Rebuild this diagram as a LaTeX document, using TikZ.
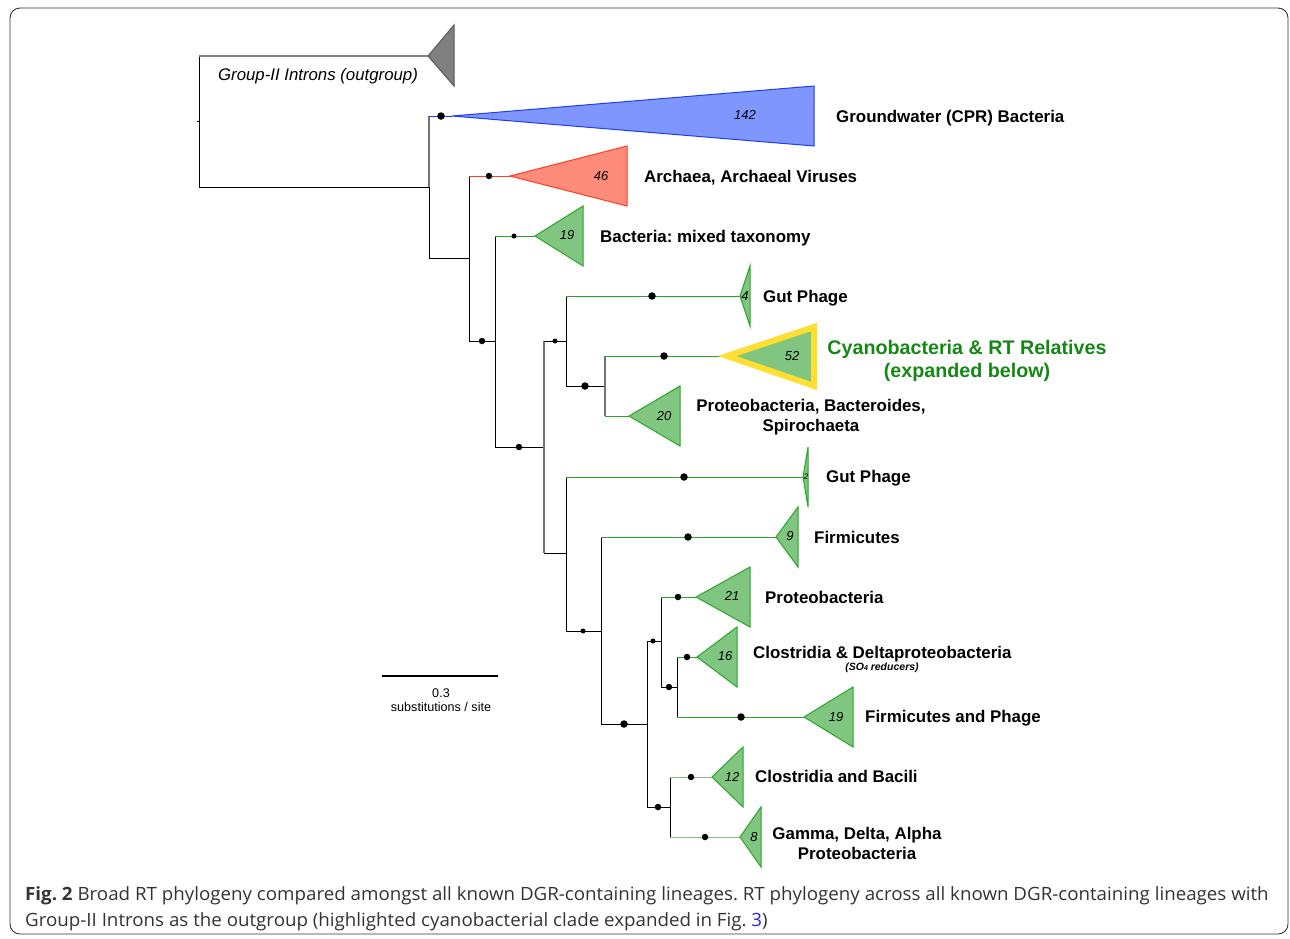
\documentclass[tikz,border=0pt]{standalone}
\usepackage{fontspec}
\setmainfont{Liberation Sans}
\newfontfamily\capfont{Open Sans}
\usetikzlibrary{calc}
\frenchspacing
\definecolor{gfill}{RGB}{128,198,128}
\definecolor{gline}{RGB}{40,165,40}
\definecolor{bfill}{RGB}{128,150,255}
\definecolor{bline}{RGB}{30,60,255}
\definecolor{rfill}{RGB}{255,140,122}
\definecolor{rline}{RGB}{255,60,30}
\definecolor{ylw}{RGB}{255,224,50}
\definecolor{cyantxt}{RGB}{20,135,20}
\definecolor{capgray}{RGB}{51,51,51}
\definecolor{figblue}{RGB}{40,40,220}
\begin{document}
\begin{tikzpicture}[x=1pt,y=-1pt,
  branch/.style={line width=0.9pt, black},
  greybranch/.style={line width=1.2pt, black!55},
  leafg/.style={line width=0.9pt, gline},
  dotL/.style={circle, fill=black, inner sep=0pt, minimum size=7.5pt},
  dotM/.style={circle, fill=black, inner sep=0pt, minimum size=6.5pt},
  dotS/.style={circle, fill=black, inner sep=0pt, minimum size=5pt},
  lab/.style={font=\bfseries\fontsize{16.9}{20}\selectfont, anchor=base west, inner sep=0pt},
  clab/.style={font=\bfseries\fontsize{16.9}{20}\selectfont, align=center, inner sep=0pt},
  num/.style={font=\itshape\fontsize{13}{15}\selectfont, inner sep=0pt},
  tri/.style={line width=1pt, line join=miter},
  captxt/.style={font=\capfont\fontsize{18.3}{20}\selectfont, text=capgray, anchor=base west, inner sep=0pt}
]
\useasboundingbox (0,0) rectangle (1290,938);
% frame
\draw[line width=0.9pt, black!80, rounded corners=10pt] (10,8) -- (1288,8) -- (1288,934) -- (10,934) -- cycle;

% ---- clade apex coordinates
\coordinate (og) at (428,56);
\coordinate (cpr) at (452,116);
\coordinate (arc) at (510,176);
\coordinate (mix) at (535,236);
\coordinate (gp1) at (740,296);
\coordinate (cya) at (727,356);
\coordinate (pbs) at (629,416);
\coordinate (gp2) at (803,477);
\coordinate (fir) at (776,537);
\coordinate (pro) at (696,597);
\coordinate (cld) at (697,657);
\coordinate (fph) at (804,717);
\coordinate (cba) at (712,777);
\coordinate (gda) at (740,837);

% ---- internal nodes
\coordinate (n0) at (199,121);
\coordinate (n1) at (429,187);
\coordinate (n2) at (469,258);
\coordinate (n3) at (495,341);
\coordinate (n4) at (544,447);
\coordinate (n5) at (566,341);
\coordinate (n6) at (605,386);
\coordinate (n8) at (566,553);
\coordinate (n9) at (601,631);
\coordinate (n10) at (647,724);
\coordinate (n11) at (661,641);
\coordinate (n12) at (677,687);
\coordinate (n13) at (670,807);

% ---- edges
\draw[branch] (n0) -- ++(-2,0);
\draw[branch] (n0) |- (n1);
\draw[branch] (n0) -- (n0 |- og);
\draw[line width=1.2pt, black!50] (n0 |- og) -- (og);
\draw[greybranch] (n1) -- (n1 |- cpr);
\draw[line width=0.9pt, bline] (n1 |- cpr) -- (cpr);
\draw[branch] (n1) |- (n2);
\draw[branch] (n2) -- (n2 |- arc);
\draw[line width=0.9pt, rline] (n2 |- arc) -- (arc);
\draw[branch] (n2) |- (n3);
\draw[branch] (n3) -- (n3 |- mix);
\draw[leafg] (n3 |- mix) -- (mix);
\draw[branch] (n3) |- (n4);
\draw[greybranch] (n4 |- n5) -- (n4 |- n8);
\draw[branch] (n4 |- n5) -- (n5);
\draw[branch] (n4 |- n8) -- (n8);
\draw[branch] (n5) -- (n5 |- gp1);
\draw[leafg] (n5 |- gp1) -- (gp1);
\draw[branch] (n5) |- (n6);
\draw[greybranch] (n6 |- cya) -- (n6 |- pbs);
\draw[leafg] (n6 |- cya) -- (cya);
\draw[leafg] (n6 |- pbs) -- (pbs);
\draw[branch] (n8) -- (n8 |- gp2);
\draw[leafg] (n8 |- gp2) -- (gp2);
\draw[branch] (n8) |- (n9);
\draw[branch] (n9) -- (n9 |- fir);
\draw[leafg] (n9 |- fir) -- (fir);
\draw[branch] (n9) |- (n10);
\draw[branch] (n10) |- (n11);
\draw[branch] (n10) |- (n13);
\draw[branch] (n11) -- (n11 |- pro);
\draw[leafg] (n11 |- pro) -- (pro);
\draw[branch] (n11) |- (n12);
\draw[branch] (n12 |- cld) -- (n12 |- fph);
\draw[leafg] (n12 |- cld) -- (cld);
\draw[leafg] (n12 |- fph) -- (fph);
\draw[branch] (n13 |- cba) -- (n13 |- gda);
\draw[leafg, gline!65] (n13 |- cba) -- (cba);
\draw[leafg, gline!65] (n13 |- gda) -- (gda);

% ---- triangles
\draw[tri, fill=black!50, draw=black!65] (og) -- ++(26,-31) -- ++(0,61) -- cycle;
\draw[tri, fill=bfill, draw=bline] (cpr) -- (814,86) -- (814,146) -- cycle;
\draw[tri, fill=rfill, draw=rline] (arc) -- (627,146) -- (627,206) -- cycle;
\draw[tri, fill=gfill, draw=gline] (mix) -- (583,206) -- (583,266) -- cycle;
\draw[tri, fill=gfill, draw=gline] (gp1) -- (750,266) -- (750,326) -- cycle;
\draw[line width=6pt, line join=miter, fill=gfill, draw=ylw] (cya) -- (814,327) -- (814,386) -- cycle;
\draw[tri, fill=gfill, draw=gline] (pbs) -- (680,386) -- (680,446) -- cycle;
\draw[tri, fill=gfill, draw=gline] (gp2) -- (808,447) -- (808,507) -- cycle;
\draw[tri, fill=gfill, draw=gline] (fir) -- (798,507) -- (798,567) -- cycle;
\draw[tri, fill=gfill, draw=gline] (pro) -- (750,567) -- (750,627) -- cycle;
\draw[tri, fill=gfill, draw=gline] (cld) -- (737,627) -- (737,687) -- cycle;
\draw[tri, fill=gfill, draw=gline] (fph) -- (853,687) -- (853,747) -- cycle;
\draw[tri, fill=gfill, draw=gline] (cba) -- (743,747) -- (743,807) -- cycle;
\draw[tri, fill=gfill, draw=gline] (gda) -- (761,807) -- (761,867) -- cycle;

% ---- counts
\node[num] (c142) at (745,115) {142};
\node[num] (c46) at (601,176) {46};
\node[num] (c19a) at (567,235) {19};
\node[num] (c4) at (745,296) {4};
\node[num] (c52) at (792,356) {52};
\node[num] (c20) at (664,416) {20};
\node[num, font=\itshape\fontsize{8}{9}\selectfont] (c2) at (806,477) {2};
\node[num] (c9) at (790,536) {9};
\node[num] (c21) at (732,596) {21};
\node[num] (c16) at (725,656) {16};
\node[num] (c19b) at (836,717) {19};
\node[num] (c12) at (732,777) {12};
\node[num] (c8) at (754,837) {8};

% ---- support dots
\node[dotL] (d1) at (441,116) {};
\node[dotM] (d2) at (489,176) {};
\node[dotS] (d3) at (514,236) {};
\node[dotM] (d4) at (482,341) {};
\node[dotM] (d5) at (519,447) {};
\node[dotS] (d6) at (555,341) {};
\node[dotL] (d7) at (652,296) {};
\node[dotL] (d8) at (585,386) {};
\node[dotL] (d9) at (664,356) {};
\node[dotL] (d10) at (684,477) {};
\node[dotS] (d11) at (583,631) {};
\node[dotL] (d12) at (688,537) {};
\node[dotL] (d13) at (624,724) {};
\node[dotS] (d14) at (653,641) {};
\node[dotM] (d15) at (678,597) {};
\node[dotM] (d16) at (669,687) {};
\node[dotM] (d17) at (687,657) {};
\node[dotL] (d18) at (741,717) {};
\node[dotM] (d19) at (658,807) {};
\node[dotM] (d20) at (691,777) {};
\node[dotM] (d21) at (705,837) {};

% ---- labels
\node[font=\itshape\fontsize{16.8}{18}\selectfont, inner sep=0pt, anchor=base] (l0) at (318,80) {Group-II Introns (outgroup)};
\node[lab] (l1) at (836,122) {Groundwater (CPR) Bacteria};
\node[lab] (l2) at (644,182) {Archaea, Archaeal Viruses};
\node[lab] (l3) at (600,242) {Bacteria: mixed taxonomy};
\node[lab] (l4) at (763,302) {Gut Phage};
\node[clab, text=cyantxt, font=\bfseries\fontsize{19.7}{23}\selectfont] (l5) at (967,361) {Cyanobacteria \& RT Relatives\\(expanded below)};
\node[clab] (l6) at (811,417) {Proteobacteria, Bacteroides,\\Spirochaeta};
\node[lab] (l7) at (826,482) {Gut Phage};
\node[lab] (l8) at (814,543) {Firmicutes};
\node[lab] (l9) at (765,603) {Proteobacteria};
\node[lab] (l10) at (753,658) {Clostridia \& Deltaproteobacteria};
\node[inner sep=0pt, font=\bfseries\itshape\fontsize{10.5}{12}\selectfont] (l10b) at (882,667.5) {(SO{\fontsize{7}{8}\selectfont 4} reducers)};
\node[lab] (l11) at (865,722) {Firmicutes and Phage};
\node[lab] (l12) at (755,782) {Clostridia and Bacili};
\node[clab] (l13) at (857,843) {Gamma, Delta, Alpha\\Proteobacteria};

% ---- scale bar
\coordinate (sb1) at (382,676);
\coordinate (sb2) at (498,676);
\draw[line width=2pt] (sb1) -- (sb2);
\node[font=\fontsize{12.6}{14}\selectfont, align=center, inner sep=0pt] (sbl) at (441,700) {0.3\\substitutions / site};

% ---- caption
\node[captxt] (cap1) at (25,900) {\scalebox{1.024}[1]{{\bfseries Fig. 2} Broad RT phylogeny compared amongst all known DGR-containing lineages. RT phylogeny across all known DGR-containing lineages with}};
\node[captxt] (cap2) at (25,926.5) {\scalebox{1.024}[1]{Group-II Introns as the outgroup (highlighted cyanobacterial clade expanded in Fig. \textcolor{figblue}{3})}};
\end{tikzpicture}
\end{document}
